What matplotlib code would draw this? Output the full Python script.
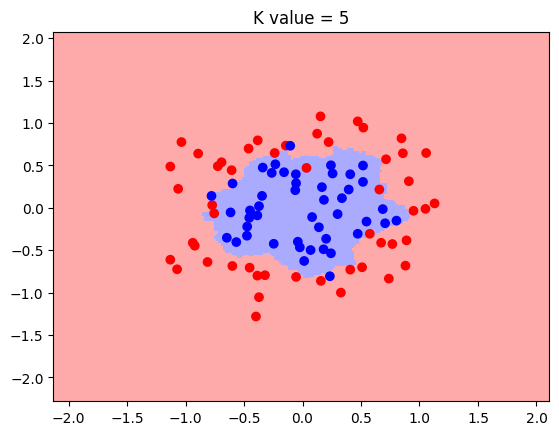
import numpy as np
import matplotlib
matplotlib.use("Agg")
import matplotlib.pyplot as plt
from matplotlib.colors import ListedColormap

k = 5

# class 0 (red) points
red_x = [-1.035, -0.892, -1.130, -1.063, -0.724, -0.692, -0.606, -0.461, -0.383, -0.238,
         -0.143, -0.772, -0.755, 0.154, 0.472, 0.520, 0.125, 0.223, 0.846, 0.858,
         1.057, 0.714, 0.034, 0.909, 0.657, 0.949, 1.051, 1.129, 0.575, 0.672,
         0.768, 0.889, 0.408, 0.509, 0.880, 0.738, -0.055, 0.157, 0.328, -0.938,
         -0.921, -1.130, -1.072, -0.812, -0.600, -0.452, -0.386, -0.321, -0.372, -0.398]
red_y = [0.776, 0.640, 0.487, 0.224, 0.491, 0.538, 0.444, 0.699, 0.796, 0.647,
         0.734, 0.032, -0.066, 1.079, 1.020, 0.946, 0.875, 0.776, 0.820, 0.644,
         0.647, 0.573, 0.471, 0.314, 0.216, -0.035, -0.012, 0.052, -0.306, -0.412,
         -0.427, -0.384, -0.729, -0.701, -0.682, -0.835, -0.815, -0.862, -1.000, -0.412,
         -0.447, -0.612, -0.725, -0.639, -0.686, -0.706, -0.800, -0.795, -1.054, -1.282]

# class 1 (blue) points
blue_x = [-0.105, -0.598, -0.340, -0.232, -0.263, -0.158, -0.057, -0.055, -0.062, -0.778,
          -0.346, -0.372, -0.449, -0.386, -0.615, -0.455, -0.473, 0.243, 0.517, 0.257,
          0.408, 0.517, 0.166, 0.395, 0.183, 0.337, 0.686, 0.300, 0.082, 0.547,
          0.706, 0.803, 0.140, 0.472, -0.647, -0.566, -0.475, -0.246, -0.040, -0.023,
          0.069, 0.202, 0.180, 0.243, 0.014, 0.234]
blue_y = [0.732, 0.287, 0.475, 0.514, 0.412, 0.420, 0.396, 0.291, 0.208, 0.141,
          0.141, 0.020, -0.031, -0.089, -0.054, -0.118, -0.221, 0.502, 0.499, 0.405,
          0.396, 0.306, 0.244, 0.216, 0.094, 0.114, -0.015, -0.074, -0.109, -0.162,
          -0.182, -0.151, -0.229, -0.306, -0.353, -0.404, -0.329, -0.424, -0.400, -0.466,
          -0.498, -0.365, -0.489, -0.536, -0.627, -0.807]

X = np.column_stack([red_x + blue_x, red_y + blue_y])
y = np.array([0] * len(red_x) + [1] * len(blue_x))

cmap_light = ListedColormap(['#FFAAAA', '#AAAAFF'])
cmap_bold = ListedColormap(['#FF0000', '#0000FF'])

h = .02
x_min, x_max = X[:, 0].min() - 1, X[:, 0].max() + 1
y_min, y_max = X[:, 1].min() - 1, X[:, 1].max() + 1
xx, yy = np.meshgrid(np.arange(x_min, x_max, h), np.arange(y_min, y_max, h))
grid = np.c_[xx.ravel(), yy.ravel()]

# plain k nearest neighbours vote
d = ((grid[:, None, :] - X[None, :, :]) ** 2).sum(axis=2)
nearest = np.argsort(d, axis=1)[:, :k]
Z = (y[nearest].mean(axis=1) > 0.5).astype(int).reshape(xx.shape)

fig = plt.figure(figsize=(6.4, 4.8), dpi=100)
plt.pcolormesh(xx, yy, Z, cmap=cmap_light, shading='auto')
plt.scatter(X[:, 0], X[:, 1], c=y, cmap=cmap_bold)
plt.xlim(xx.min(), xx.max())
plt.ylim(yy.min(), yy.max())
plt.title("K value = %i" % k)
plt.savefig("out.png", bbox_inches='tight')
